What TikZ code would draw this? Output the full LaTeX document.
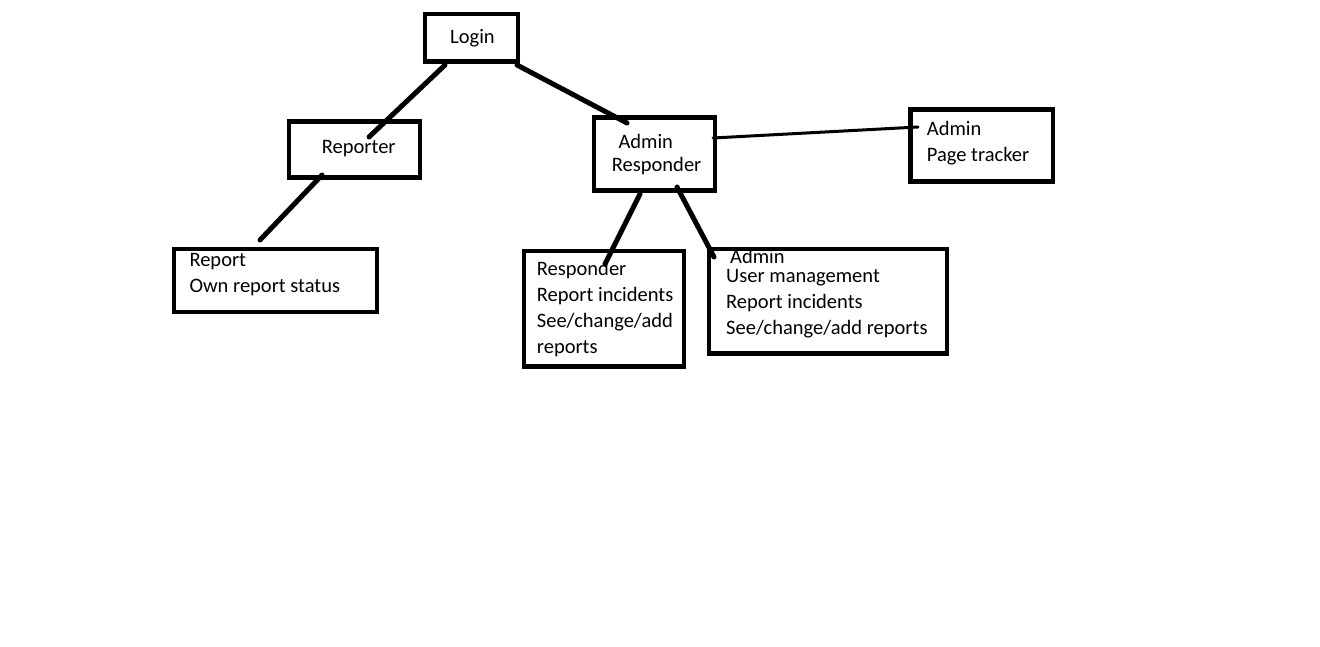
\documentclass[tikz,border=0pt]{standalone}
\usepackage{fontspec}
\setmainfont{Carlito}
\usetikzlibrary{calc}
\tikzset{
  box/.style={draw, line width=4.7pt, inner sep=0pt, outer sep=0pt},
  txt/.style={anchor=base west, align=left, inner sep=0pt, font=\fontsize{20.5}{26}\selectfont},
  link/.style={line width=5pt, line cap=round},
  thinlink/.style={line width=3pt, line cap=round}
}
\begin{document}
\begin{tikzpicture}[x=1pt,y=-1pt]
\useasboundingbox[fill=white] (0,0) rectangle (1320,646);

\node[box, minimum width=93pt, minimum height=47.5pt] (login) at (471.5,37.75) {};
\node[box, minimum width=131pt, minimum height=56pt] (reporter) at (354.5,149.5) {};
\node[box, minimum width=121pt, minimum height=73pt] (admresp) at (654.5,154) {};
\node[box, minimum width=142.5pt, minimum height=72pt] (tracker) at (981.75,145.5) {};
\node[box, minimum width=203pt, minimum height=63pt] (report) at (275.5,280.5) {};
\node[box, minimum width=160pt, minimum height=115.5pt] (responder) at (604,308.75) {};
\node[box, minimum width=238pt, minimum height=104.5pt] (admin) at (828,301.25) {};

\node[txt] (loginTxt) at (450,43.3) {Login};
\node[txt] (reporterTxt) at (321.7,153.3) {Reporter};
\node[txt] (admrespTxt) at (611.7,171.7) {\hspace*{6.6pt}Admin\\[-2.6pt]Responder};
\node[txt] (trackerTxt) at (926.7,161.7) {Admin\\Page tracker};
\node[txt] (reportTxt) at (189.3,292.7) {Report\\Own report status};
\node[txt] (responderTxt) at (536.7,353.5) {Responder\\Report incidents\\See/change/add\\reports};
\node[txt] (adminTxt) at (726,334) {\hspace*{4pt}Admin\\[-7.3pt]User management\\Report incidents\\See/change/add reports};

\draw[link] ($(login)+(-26.5,27.25)$) -- ($(reporter)+(14.5,-12.5)$);
\draw[link] ($(login)+(45.5,27.25)$) -- ($(admresp)+(-27.5,-31)$);
\draw[link] ($(reporter)+(-32.5,25.5)$) -- ($(report)+(-15.5,-40.5)$);
\draw[link] ($(admresp)+(-14.5,40)$) -- ($(responder)+(1,-44.75)$);
\draw[link] ($(admresp)+(22.5,33)$) -- ($(admin)+(-114,-44.25)$);
\draw[thinlink] ($(admresp)+(58.5,-16)$) -- ($(tracker)+(-63.75,-18.5)$);
\end{tikzpicture}
\end{document}
